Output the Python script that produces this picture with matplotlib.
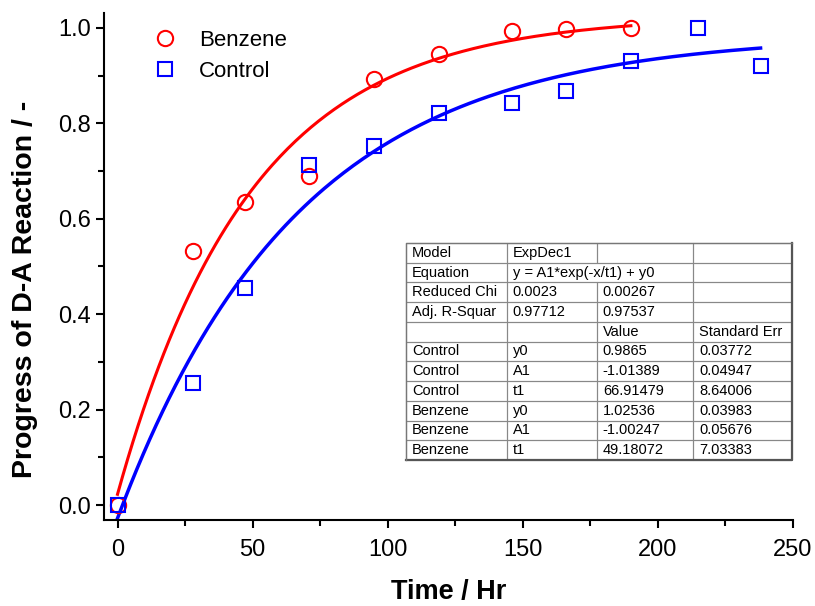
import numpy as np
import matplotlib
matplotlib.use('Agg')
import matplotlib.pyplot as plt

# measured data
benz_t = [0, 28, 47, 71, 95, 119, 146, 166, 190]
benz_y = [0.0, 0.533, 0.635, 0.690, 0.893, 0.945, 0.993, 0.998, 1.000]
ctrl_t = [0, 28, 47, 71, 95, 119, 146, 166, 190, 215, 238]
ctrl_y = [0.0, 0.255, 0.455, 0.713, 0.752, 0.822, 0.843, 0.868, 0.930, 1.000, 0.920]

# fit parameters (ExpDec1: y = A1*exp(-x/t1) + y0)
benz_fit = {'y0': 1.02536, 'A1': -1.00247, 't1': 49.18072}
ctrl_fit = {'y0': 0.9865, 'A1': -1.01389, 't1': 66.91479}

table_rows = [
    ['Model', 'ExpDec1', '', ''],
    ['Equation', 'y = A1*exp(-x/t1) + y0', '', ''],
    ['Reduced Chi', '0.0023', '0.00267', ''],
    ['Adj. R-Squar', '0.97712', '0.97537', ''],
    ['', '', 'Value', 'Standard Err'],
    ['Control', 'y0', '0.9865', '0.03772'],
    ['Control', 'A1', '-1.01389', '0.04947'],
    ['Control', 't1', '66.91479', '8.64006'],
    ['Benzene', 'y0', '1.02536', '0.03983'],
    ['Benzene', 'A1', '-1.00247', '0.05676'],
    ['Benzene', 't1', '49.18072', '7.03383'],
]

plt.rcParams['font.family'] = ['Liberation Sans', 'DejaVu Sans']

fig = plt.figure(figsize=(8.15, 6.06), dpi=100)
ax = fig.add_axes([104/815, 1-520/606, 689/815, 507/606])

def expdec(x, p):
    return p['A1']*np.exp(-x/p['t1']) + p['y0']

xb = np.linspace(0, max(benz_t), 200)
xc = np.linspace(0, max(ctrl_t), 200)
ax.plot(xb, expdec(xb, benz_fit), color='#ff0000', lw=2.2, zorder=2)
ax.plot(xc, expdec(xc, ctrl_fit), color='#0000ff', lw=2.5, zorder=2)
ax.plot(benz_t, benz_y, 'o', ms=11, mfc='none', mec='#ff0000', mew=1.5,
        label='Benzene', zorder=3)
ax.plot(ctrl_t, ctrl_y, 's', ms=10, mfc='none', mec='#0000ff', mew=1.5,
        label='Control', zorder=3)

ax.set_xlim(-5, 250)
ax.set_ylim(-0.031, 1.031)
ax.set_xticks([0, 50, 100, 150, 200, 250])
ax.set_xticks([25, 75, 125, 175, 225], minor=True)
ax.set_yticks([0.0, 0.2, 0.4, 0.6, 0.8, 1.0])
ax.set_yticks([0.1, 0.3, 0.5, 0.7, 0.9], minor=True)
ax.set_yticklabels(['0.0', '0.2', '0.4', '0.6', '0.8', '1.0'])
for s in ['top', 'right']:
    ax.spines[s].set_visible(False)
for s in ['left', 'bottom']:
    ax.spines[s].set_linewidth(1.5)
ax.tick_params(which='major', direction='out', length=6, width=1.5,
               labelsize=17)
ax.tick_params(axis='x', which='major', pad=8)
ax.tick_params(which='minor', direction='out', length=4, width=1.5)

ax.set_xlabel('Time / Hr', fontsize=19.5, fontweight='bold')
ax.xaxis.set_label_coords(0.5, -0.117)
ax.set_ylabel('Progress of D-A Reaction / -', fontsize=20.5, fontweight='bold')
ax.yaxis.set_label_coords(-0.096, 0.455)

ax.legend(loc='upper left', bbox_to_anchor=(0.035, 1.006), frameon=False,
          fontsize=16, handletextpad=0.8, labelspacing=0.45, handlelength=1.5)

# fit summary table
tax = fig.add_axes([406/815, 1-460/606, 386/815, 217/606])
tax.axis('off')
tax.add_patch(plt.Rectangle((0, 0), 1, 1, transform=tax.transAxes,
                            facecolor='white', edgecolor='none', zorder=0))
tbl = tax.table(cellText=table_rows, cellLoc='left', bbox=[0, 0, 1, 1],
                colWidths=[0.262, 0.233, 0.249, 0.256])
tbl.auto_set_font_size(False)
for (r, c), cell in tbl.get_celld().items():
    cell.set_edgecolor('#888888')
    cell.set_facecolor('none')
    cell.set_linewidth(0.8)
    cell.PAD = 0.06
    cell.get_text().set_fontsize(10.5)
    cell.get_text().set_clip_on(False)
    if r == 1 and c == 1:
        cell.visible_edges = 'BTL'
    elif r == 1 and c == 2:
        cell.visible_edges = 'BTR'
tax.plot([0, 1, 1], [0, 0, 1], color='#555555', lw=1.6, transform=tax.transAxes,
         clip_on=False)
tax.plot([0, 0, 1], [0, 1, 1], color='#777777', lw=1.0, transform=tax.transAxes,
         clip_on=False)

fig.savefig('out.png', dpi=100)
